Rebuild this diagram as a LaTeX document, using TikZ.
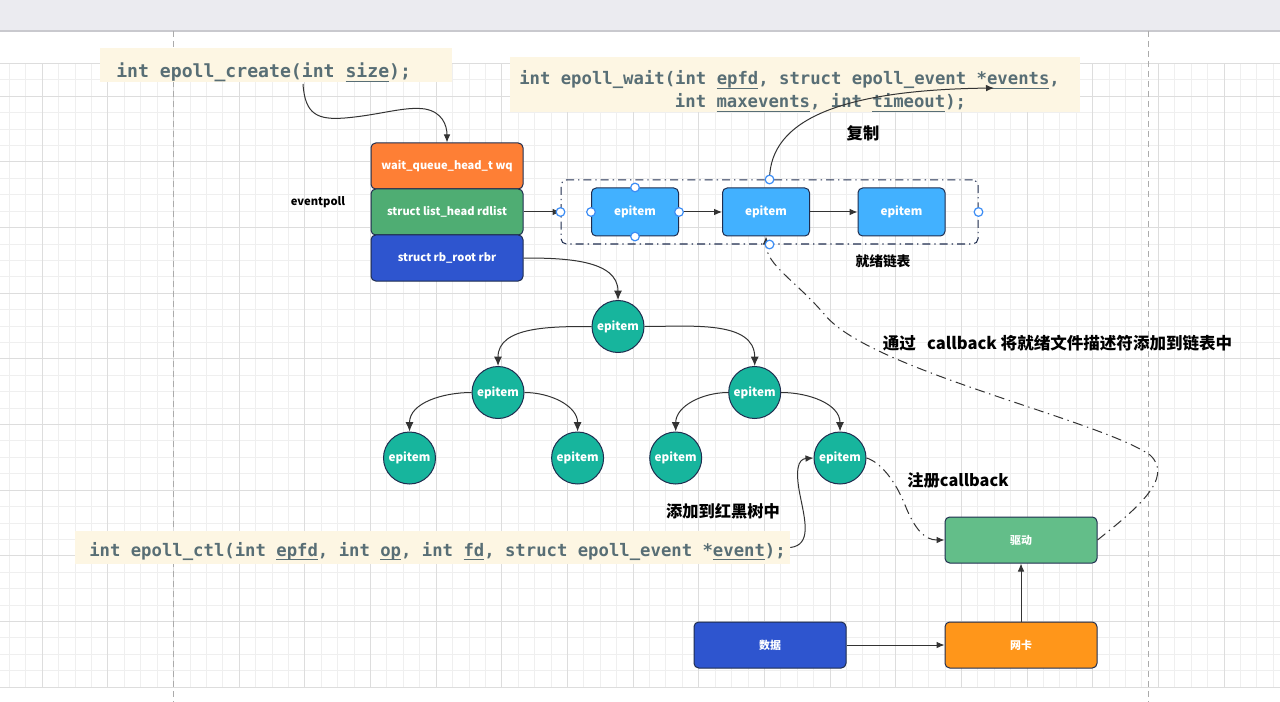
\documentclass[tikz,border=0pt]{standalone}
\usepackage{fontspec}
\setmainfont{Noto Sans CJK SC}
\newfontfamily\codefont{DejaVu Sans Mono}
\usetikzlibrary{arrows.meta}
\definecolor{topbar}{HTML}{EBEBF0}
\definecolor{barline}{HTML}{C9C9CE}
\definecolor{gridminor}{HTML}{EFEFEF}
\definecolor{gridmajor}{HTML}{DDDDDD}
\definecolor{pageline}{HTML}{ABABAB}
\definecolor{cream}{HTML}{FDF6E3}
\definecolor{codec}{HTML}{586E75}
\definecolor{navy}{HTML}{1F2D4F}
\definecolor{worange}{HTML}{FE7F35}
\definecolor{wgreen}{HTML}{4FAD73}
\definecolor{wblue}{HTML}{2E55CF}
\definecolor{epblue}{HTML}{42B1FF}
\definecolor{tealc}{HTML}{17B59D}
\definecolor{drvgreen}{HTML}{63BE89}
\definecolor{nicorange}{HTML}{FF961A}
\definecolor{edgec}{HTML}{333333}
\definecolor{hblue}{HTML}{3C8DF5}
\newcommand\ulc[1]{\setbox0\hbox{#1}\rlap{\rule[-2.6pt]{\wd0}{0.6pt}}#1}
\begin{document}
\begin{tikzpicture}[x=0.75pt,y=-0.75pt,
  ebox/.style={draw=navy, line width=0.75pt, rounded corners=3.5pt, text=white,
    font=\bfseries\fontsize{8.3}{10}\selectfont, minimum width=114pt, minimum height=34.5pt, inner sep=0pt},
  ep/.style={ebox, fill=epblue, minimum width=65.25pt, minimum height=36pt, font=\bfseries\fontsize{8.8}{10}\selectfont},
  circ/.style={circle, draw=navy, line width=0.75pt, fill=tealc, minimum size=39pt, inner sep=0pt,
    text=white, font=\bfseries\fontsize{8.8}{10}\selectfont},
  conn/.style={draw=edgec, line width=0.75pt, -{Latex[length=6pt,width=5pt]}},
  tconn/.style={conn, -{Latex[length=7pt,width=6pt]}},
  dd/.style={conn, dash pattern=on 7.5pt off 3.5pt on 1pt off 3.5pt},
  hdl/.style={circle, draw=hblue, fill=white, line width=0.9pt, minimum size=6.5pt, inner sep=0pt},
  lbl/.style={font=\bfseries\fontsize{12.2}{14}\selectfont, text=black, inner sep=0pt},
  codebg/.style={fill=cream, inner sep=0pt},
  code/.style={text=codec, inner sep=0pt, anchor=base west},
]
\useasboundingbox (0,0) rectangle (1280,702);
\fill[white] (0,0) rectangle (1280,702);
\fill[topbar] (0,0) rectangle (1280,31);
\draw[barline, line width=1pt] (0,31) -- (1280,31);
% grid
\foreach \i in {-2,...,75} \draw[gridminor, line width=0.75pt] ({42.3+\i*16.4125},63.5) -- ({42.3+\i*16.4125},687.2);
\foreach \j in {-2,...,36} \draw[gridminor, line width=0.75pt] (0,{96.3+\j*16.4125}) -- (1280,{96.3+\j*16.4125});
\foreach \i in {0,...,18} \draw[gridmajor, line width=0.75pt] ({42.3+\i*65.65},63.5) -- ({42.3+\i*65.65},687.2);
\foreach \j in {0,...,9} \draw[gridmajor, line width=0.75pt] (0,{96.3+\j*65.65}) -- (1280,{96.3+\j*65.65});
\draw[gridmajor, line width=0.75pt] (0,63.5) -- (1280,63.5);
\draw[pageline, line width=0.75pt, dash pattern=on 4.5pt off 3pt] (173,31) -- (173,702);
\draw[pageline, line width=0.75pt, dash pattern=on 4.5pt off 3pt] (1148,31) -- (1148,702);

% code boxes
\node[codebg, minimum width=264pt, minimum height=25.5pt] (createbg) at (276,65) {};
\node[code, font=\codefont\bfseries\fontsize{13.6}{16}\selectfont] (createtxt) at (116,78) {int epoll\_create(int \ulc{size});};
\node[codebg, minimum width=427.5pt, minimum height=41.25pt] (waitbg) at (795,84.5) {};
\node[code, font=\codefont\bfseries\fontsize{12.95}{15}\selectfont] (waittxt1) at (519,85) {int epoll\_wait(int \ulc{epfd}, struct epoll\_event *\ulc{events},};
\node[code, font=\codefont\bfseries\fontsize{12.95}{15}\selectfont] (waittxt2) at (674.7,108) {int \ulc{maxevents}, int \ulc{timeout});};
\node[codebg, minimum width=536.25pt, minimum height=24.75pt] (ctlbg) at (432.5,547.5) {};
\node[code, font=\codefont\bfseries\fontsize{12.95}{15}\selectfont] (ctltxt) at (89,556) {int epoll\_ctl(int \ulc{epfd}, int \ulc{op}, int \ulc{fd}, struct epoll\_event *\ulc{event});};

% eventpoll struct
\node[ebox, fill=worange] (wq) at (447,166) {wait\_queue\_head\_t wq};
\node[ebox, fill=wgreen] (rdlist) at (447,212) {struct list\_head rdlist};
\node[ebox, fill=wblue] (rbr) at (447,258) {struct rb\_root rbr};
\node[lbl, font=\bfseries\fontsize{8.4}{10}\selectfont] (evp) at (318,202) {eventpoll};

% ready list
\node[draw=navy, line width=0.75pt, rounded corners=4pt, dash pattern=on 6pt off 3pt on 1pt off 3pt,
  minimum width=312.75pt, minimum height=48pt, inner sep=0pt] (rdy) at (769.5,212) {};
\node[ep] (e1) at (635,212) {epitem};
\node[ep] (e2) at (766,212) {epitem};
\node[ep] (e3) at (901.5,212) {epitem};
\node[lbl, font=\bfseries\fontsize{10.3}{12}\selectfont] (rdylbl) at (883,261) {就绪链表};
\node[lbl] (copylbl) at (863,133) {复制};

% tree
\node[circ] (root) at (618,326.5) {epitem};
\node[circ] (l1a) at (498,392.5) {epitem};
\node[circ] (l1b) at (754.7,392.5) {epitem};
\node[circ] (l2a) at (409.5,458) {epitem};
\node[circ] (l2b) at (577.6,458) {epitem};
\node[circ] (l2c) at (675.7,458) {epitem};
\node[circ] (l2d) at (840,458) {epitem};

% labels
\node[lbl] (addlbl) at (723,511.5) {添加到红黑树中};
\node[lbl] (reglbl) at (958,480) {注册callback};
\node[lbl, font=\bfseries\fontsize{12.4}{14}\selectfont] (cblbl) at (1057.5,343) {通过\ \ \ callback 将就绪文件描述符添加到链表中};

% device boxes
\node[ebox, fill=drvgreen, font=\bfseries\fontsize{8.2}{10}\selectfont] (driver) at (1021,540) {驱动};
\node[ebox, fill=nicorange, font=\bfseries\fontsize{8.2}{10}\selectfont] (nic) at (1021,645) {网卡};
\node[ebox, fill=wblue, font=\bfseries\fontsize{8.2}{10}\selectfont] (data) at (770,645) {数据};

% connectors
\coordinate (cstart) at (303,84);
\draw[conn] (cstart) .. controls (305,115) and (318,120) .. (345,118)
  .. controls (380,115) and (405,106) .. (425,109)
  .. controls (442,112) and (447,125) .. (wq.north);
\draw[conn] (rdlist.east) -- (rdy.west);
\draw[conn] (e1.east) -- (e2.west);
\draw[conn] (e2.east) -- (e3.west);
\coordinate (wend) at (994,88);
\draw[conn] (rdy.north) .. controls (770,120) and (840,90) .. (wend);
\draw[tconn] (rbr.east) to[out=0,in=90] (root.north);
\draw[tconn] (root.west) to[out=180,in=90] (l1a.north);
\draw[tconn] (root.east) to[out=0,in=90] (l1b.north);
\draw[tconn] (l1a.west) to[out=180,in=90] (l2a.north);
\draw[tconn] (l1a.east) to[out=0,in=90] (l2b.north);
\draw[tconn] (l1b.west) to[out=180,in=90] (l2c.north);
\draw[tconn] (l1b.east) to[out=0,in=90] (l2d.north);
\draw[conn] (ctlbg.east) .. controls (812,545) and (805,520) .. (800,495)
  .. controls (795,470) and (798,459) .. (l2d.west);
\draw[dd] (l2d.east) .. controls (880,462) and (895,480) .. (905,505)
  .. controls (915,530) and (925,540) .. (driver.west);
\draw[dd] (driver.east) .. controls (1135,510) and (1175,478) .. (1150,455)
  .. controls (1100,420) and (870,370) .. (825,315)
  .. controls (795,280) and (766,265) .. (e2.south);
\draw[conn] (data.east) -- (nic.west);
\draw[conn] (nic.north) -- (driver.south);

% selection handles
\node[hdl] (h1) at (rdy.west) {};
\node[hdl] (h2) at (rdy.east) {};
\node[hdl] (h3) at (rdy.north) {};
\node[hdl] (h4) at (rdy.south) {};
\node[hdl] (h5) at (e1.west) {};
\node[hdl] (h6) at (e1.east) {};
\node[hdl] (h7) at (e1.north) {};
\node[hdl] (h8) at (e1.south) {};
\end{tikzpicture}
\end{document}
